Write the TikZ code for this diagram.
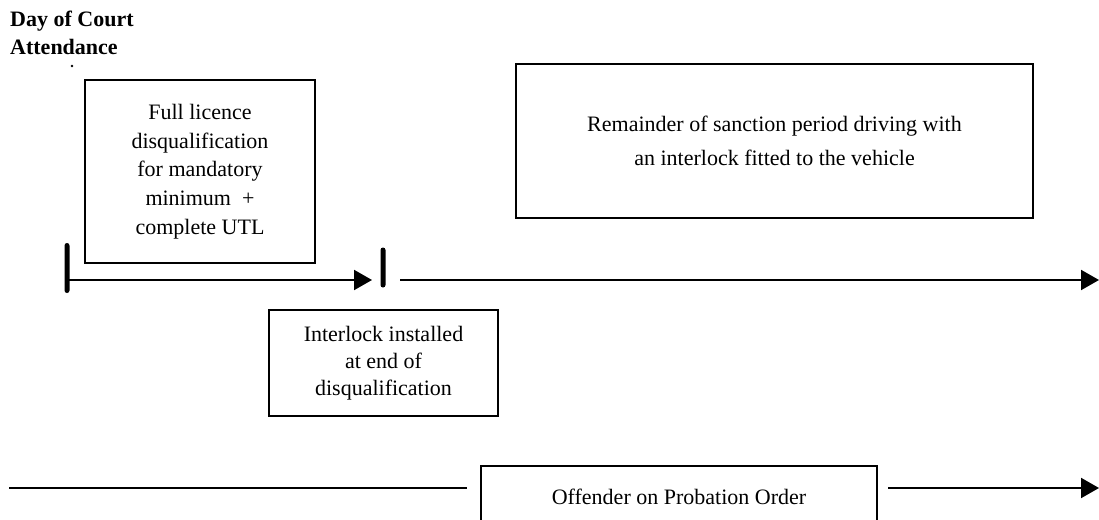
\documentclass[tikz,border=0pt]{standalone}
\usepackage{fontspec}
\setmainfont{Liberation Serif}
\usetikzlibrary{arrows.meta,positioning}

\begin{document}
\begin{tikzpicture}[x=1pt, y=-1pt,
  every node/.style={font=\fontsize{22}{28.7}\selectfont},
  box/.style={draw, line width=1.6pt, inner sep=0pt, align=center},
  tick/.style={fill, rectangle, rounded corners=2.5pt, inner sep=0pt, minimum width=5pt, minimum height=50pt},
  arr/.style={-{Triangle[length=18pt, width=20pt]}, line width=2pt},
  plain/.style={line width=2pt}]
\useasboundingbox (0,0) rectangle (1099,519);
\node[anchor=north west, inner sep=0pt, align=left, font=\fontsize{22}{28}\selectfont\bfseries] (day) at (10,11) {Day of Court\\Attendance};
\fill (72,66) circle (1.3pt);
\node[box, minimum width=230pt, minimum height=183pt] (full) at (200,171.5)
  {Full licence\\disqualification\\for mandatory\\minimum\ \ +\\complete UTL};
\node[box, minimum width=517pt, minimum height=154pt] (rem) at (774.5,141)
  {Remainder of sanction period driving with\\[5pt]an interlock fitted to the vehicle};
\node[box, minimum width=229pt, minimum height=106pt, font=\fontsize{22}{27}\selectfont] (inst) at (383.5,363)
  {Interlock installed\\at end of\\disqualification};
\node[box, minimum width=396pt, minimum height=62pt] (prob) at (679,497) {Offender on Probation Order};
\node[tick] (d0) at (67,268) {};
\node[tick, minimum height=40pt] (d1) at (383,267.5) {};
\coordinate (e1) at (372,280);
\coordinate (s1) at (400,280);
\coordinate (e2) at (1099,280);
\coordinate (p0) at (9,488);
\coordinate (p1) at (467,488);
\coordinate (p2) at (888,488);
\coordinate (e3) at (1099,488);
\draw[arr] (d0.center |- e1) -- (e1);
\draw[arr] (s1) -- (e2);
\draw[plain] (p0) -- (p1);
\draw[arr] (p2) -- (e3);
\end{tikzpicture}
\end{document}
